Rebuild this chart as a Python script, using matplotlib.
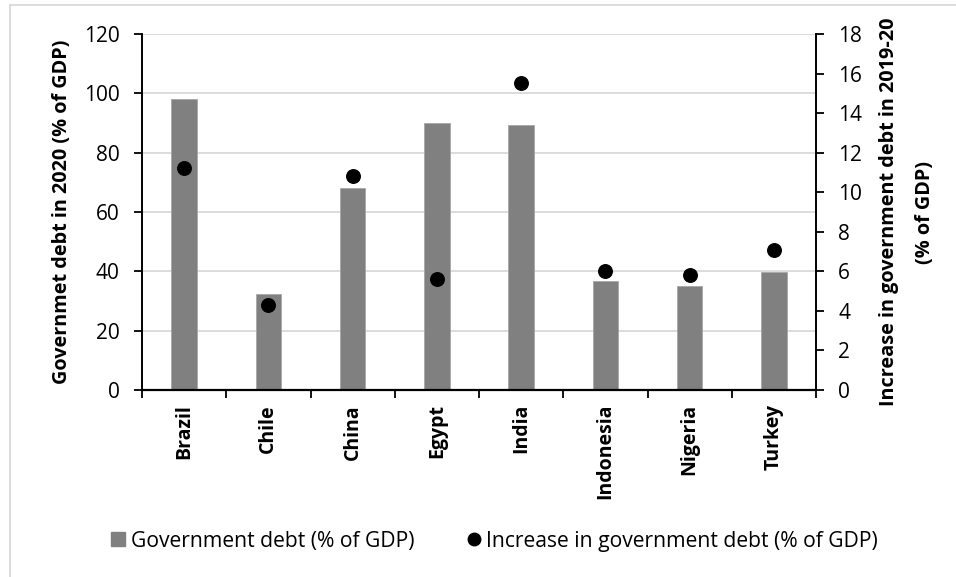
import matplotlib
matplotlib.use("Agg")
import matplotlib.pyplot as plt
from matplotlib.lines import Line2D
import numpy as np

countries = ["Brazil", "Chile", "China", "Egypt", "India", "Indonesia", "Nigeria", "Turkey"]
debt_2020 = [98.1, 32.5, 68.1, 89.9, 89.3, 36.6, 35.0, 39.9]
debt_increase = [11.2, 4.3, 10.8, 5.6, 15.5, 6.0, 5.8, 7.1]
left_ticks = [0, 20, 40, 60, 80, 100, 120]
right_ticks = [0, 2, 4, 6, 8, 10, 12, 14, 16, 18]

plt.rcParams['font.family'] = ['Open Sans', 'DejaVu Sans']

fig = plt.figure(figsize=(9.56, 5.77), dpi=100)
ax = fig.add_axes([142/956, 1-390/577, (816-142)/956, (390-34)/577])
ax2 = ax.twinx()

x = np.arange(len(countries))
ax.bar(x, debt_2020, width=0.30, color="#808080", edgecolor="#a6a6a6", linewidth=0.6, zorder=2)
ax.set_ylim(0, 120)
ax.set_yticks(left_ticks)
ax.set_xlim(-0.5, len(countries) - 0.5)
ax.set_xticks(x)
ax.set_xticklabels(countries, rotation=90, fontweight="bold", fontsize=14)
ax.set_xticks(np.arange(-0.5, len(countries)), minor=True)
ax.tick_params(axis="x", which="major", length=0, pad=10)
ax.tick_params(axis="x", which="minor", length=6, width=1.3, direction="out")
ax.tick_params(axis="y", length=6, width=1.3, labelsize=15, pad=10)
ax.grid(axis="y", color="#d9d9d9", linewidth=1.3, zorder=0)
ax.set_axisbelow(True)
for s in ["top", "right"]:
    ax.spines[s].set_visible(False)
ax.spines["left"].set_linewidth(1.4)
ax.spines["bottom"].set_linewidth(1.6)
ax.set_ylabel("Governmet debt in 2020 (% of GDP)", fontweight="bold", fontsize=14.3, labelpad=9)

ax2.scatter(x, debt_increase, s=95, color="black", zorder=3)
ax2.set_ylim(0, 18)
ax2.set_yticks(right_ticks)
ax2.tick_params(axis="y", length=6, width=1.3, labelsize=15, pad=10)
for s in ["top", "left", "bottom"]:
    ax2.spines[s].set_visible(False)
ax2.spines["right"].set_linewidth(1.4)
ax2.set_ylabel("Increase in government debt in 2019-20\n(% of GDP)", fontweight="bold",
               fontsize=14.3, labelpad=12, linespacing=2.05)

# outer frame (chart area border)
fig.add_artist(Line2D([9.5/956, 1], [1-5/577, 1-5/577], color="#d9d9d9", linewidth=1.3))
fig.add_artist(Line2D([9.5/956, 9.5/956], [0, 1-5/577], color="#d9d9d9", linewidth=1.3))

handles = [
    Line2D([], [], marker="s", linestyle="none", color="#808080", markersize=10.5),
    Line2D([], [], marker="o", linestyle="none", color="black", markersize=9),
]
labels = ["Government debt (% of GDP)", "Increase in government debt (% of GDP)"]
fig.legend(handles, labels, loc="center", bbox_to_anchor=(493/956, 1-541/577), ncol=2,
           frameon=False, fontsize=15.2, handletextpad=0.1, columnspacing=2.3, handlelength=1.0)

fig.savefig("out.png", dpi=100)
